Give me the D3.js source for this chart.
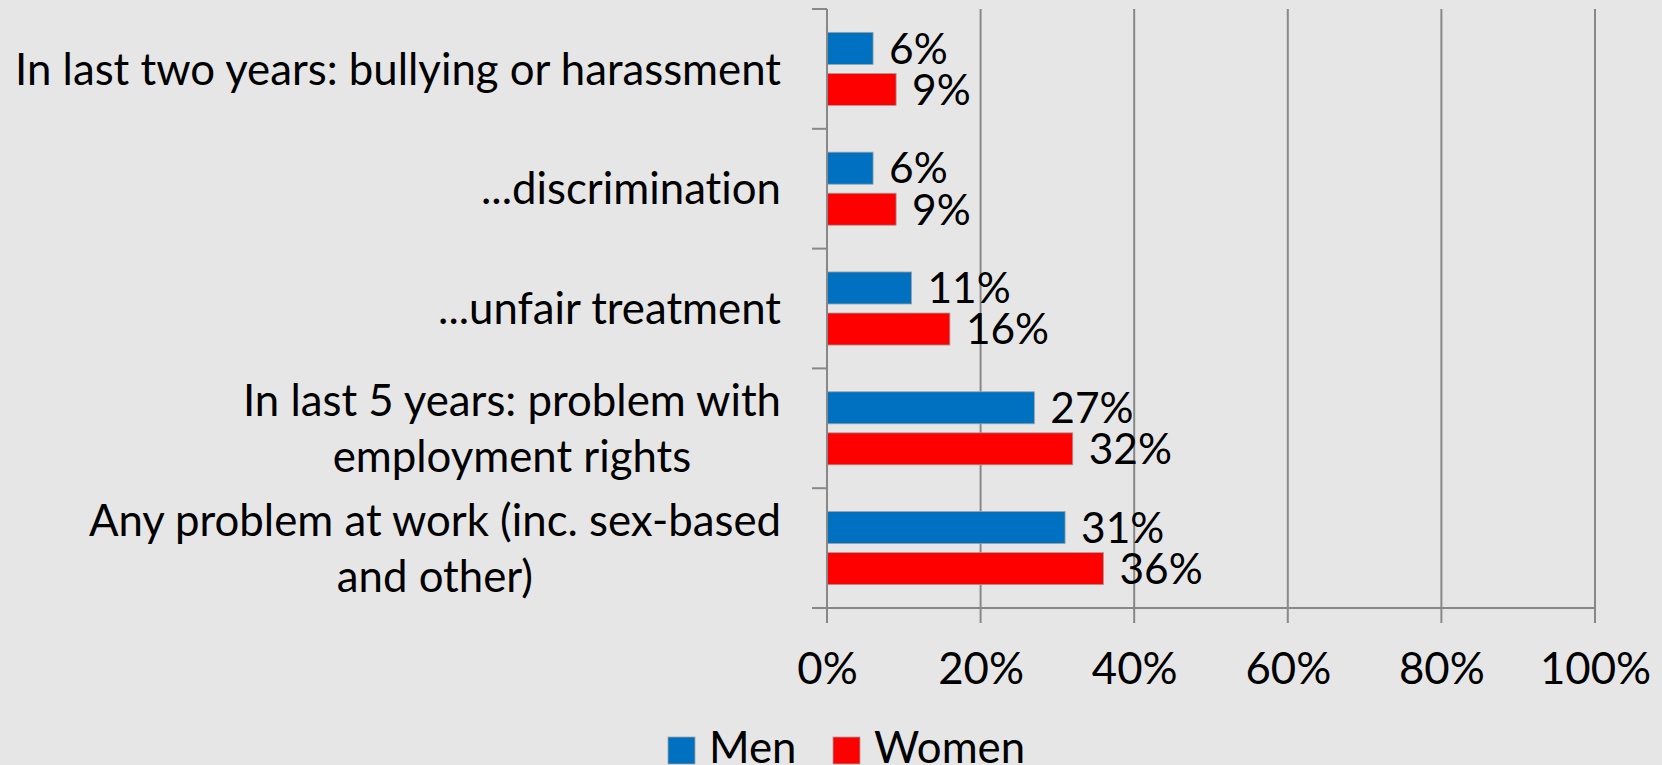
<!DOCTYPE html>
<html>
<head>
<meta charset="utf-8">
<script src="https://cdn.jsdelivr.net/npm/d3@7"></script>
<style>
  html, body { margin: 0; padding: 0; background: #e6e6e6; }
  svg { display: block; }
  text { font-family: Lato, "Open Sans", sans-serif; fill: #000; font-variant-ligatures: none; font-feature-settings: "liga" 0, "clig" 0; }
</style>
</head>
<body>
<svg id="chart" width="1662" height="765"></svg>
<script>
// ---- data ----
const categories = [
  "In last two years: bullying or harassment",
  "...discrimination",
  "...unfair treatment",
  "In last 5 years: problem with\nemployment rights",
  "Any problem at work (inc. sex-based\nand other)"
];
const seriesNames = ["Men", "Women"];
const menValues = [0.06, 0.06, 0.11, 0.27, 0.31];
const womenValues = [0.09, 0.09, 0.16, 0.32, 0.36];
const xTicks = [0, 0.2, 0.4, 0.6, 0.8, 1.0];
const colors = ["#0070C0", "#FF0000"];

const rows = categories.map((c, i) => ({ cat: c, values: [menValues[i], womenValues[i]] }));

const svg = d3.select("#chart");
const W = 1662, H = 765;
svg.append("rect").attr("width", W).attr("height", H).attr("fill", "#e6e6e6");

const plot = { left: 827, right: 1595, top: 9, bottom: 608 };
const x = d3.scaleLinear().domain([0, 1]).range([plot.left, plot.right]);
const y0 = d3.scaleBand().domain(categories).range([plot.top, plot.bottom]).padding(0);
const groupH = y0.bandwidth() * 0.61;
const y1 = d3.scaleBand().domain(seriesNames).range([0, groupH]).paddingInner(0.22);
const groupOff = (y0.bandwidth() - groupH) / 2;

// font size fitted so the longest label has the reference width
const probe = svg.append("text").attr("font-size", 40).text(categories[0]);
const measured = probe.node().getComputedTextLength();
probe.remove();
const FS = 40 * 766 / measured;

const gridColor = "#888888";

// vertical gridlines (with tick extension below axis)
svg.append("g").selectAll("line").data(xTicks).join("line")
  .attr("x1", d => x(d)).attr("x2", d => x(d))
  .attr("y1", plot.top).attr("y2", plot.bottom + 15)
  .attr("stroke", gridColor).attr("stroke-width", 2);

// x axis (labels)
const xAxis = d3.axisBottom(x).tickValues(xTicks).tickFormat(d3.format(".0%")).tickSize(0).tickPadding(0);
const gx = svg.append("g").attr("transform", `translate(0,${plot.bottom})`).call(xAxis);
gx.select(".domain").remove();
gx.selectAll("text").attr("font-size", FS).attr("font-family", "Lato, 'Open Sans', sans-serif")
  .attr("fill", "#000").attr("dy", null).attr("y", 76);

// bottom axis line
svg.append("line").attr("x1", plot.left - 15).attr("x2", plot.right)
  .attr("y1", plot.bottom).attr("y2", plot.bottom)
  .attr("stroke", gridColor).attr("stroke-width", 2);

// y category boundary ticks
const bounds = d3.range(categories.length + 1).map(i => plot.top + i * y0.step());
svg.append("g").selectAll("line").data(bounds).join("line")
  .attr("x1", plot.left - 15).attr("x2", plot.left)
  .attr("y1", d => d).attr("y2", d => d)
  .attr("stroke", gridColor).attr("stroke-width", 2);

// bars
const groups = svg.append("g").selectAll("g").data(rows).join("g")
  .attr("transform", d => `translate(0,${y0(d.cat) + groupOff})`);
groups.selectAll("rect").data(d => d.values.map((v, i) => ({ v, s: seriesNames[i], i }))).join("rect")
  .attr("x", x(0)).attr("y", d => y1(d.s))
  .attr("width", d => x(d.v) - x(0)).attr("height", y1.bandwidth())
  .attr("fill", d => colors[d.i]).attr("stroke", "#a0a0a0").attr("stroke-width", 0.8);
groups.selectAll("text").data(d => d.values.map((v, i) => ({ v, s: seriesNames[i], i }))).join("text")
  .attr("x", d => x(d.v) + 16).attr("y", d => y1(d.s) + y1.bandwidth() / 2)
  .attr("dy", "0.36em").attr("font-size", FS * 0.97)
  .text(d => d3.format(".0%")(d.v));

// y axis line (drawn over bars' left edge)
svg.append("line").attr("x1", plot.left).attr("x2", plot.left)
  .attr("y1", plot.top).attr("y2", plot.bottom + 15)
  .attr("stroke", gridColor).attr("stroke-width", 2);

// category labels: block right aligned, lines centered within block
const labelRight = 781;
const lineH = 56;
categories.forEach(c => {
  const lines = c.split("\n");
  const t = svg.append("text").attr("font-size", FS).attr("text-anchor", "middle");
  lines.forEach(l => t.append("tspan").text(l));
  let maxW = 0;
  t.selectAll("tspan").each(function () { maxW = Math.max(maxW, this.getComputedTextLength()); });
  const cx = labelRight - maxW / 2;
  const cy = y0(c) + y0.bandwidth() / 2;
  const firstY = cy - (lines.length - 1) * lineH / 2;
  t.selectAll("tspan").attr("x", cx).attr("y", (d, i) => firstY + i * lineH).attr("dy", "0.36em");
});

// legend
const legendX = [668, 833];
seriesNames.forEach((s, i) => {
  svg.append("rect").attr("x", legendX[i]).attr("y", 737).attr("width", 27).attr("height", 27)
    .attr("fill", colors[i]).attr("stroke", "#a0a0a0").attr("stroke-width", 0.8);
  svg.append("text").attr("x", legendX[i] + 41).attr("y", 763).attr("font-size", FS).text(s);
});
</script>
</body>
</html>
